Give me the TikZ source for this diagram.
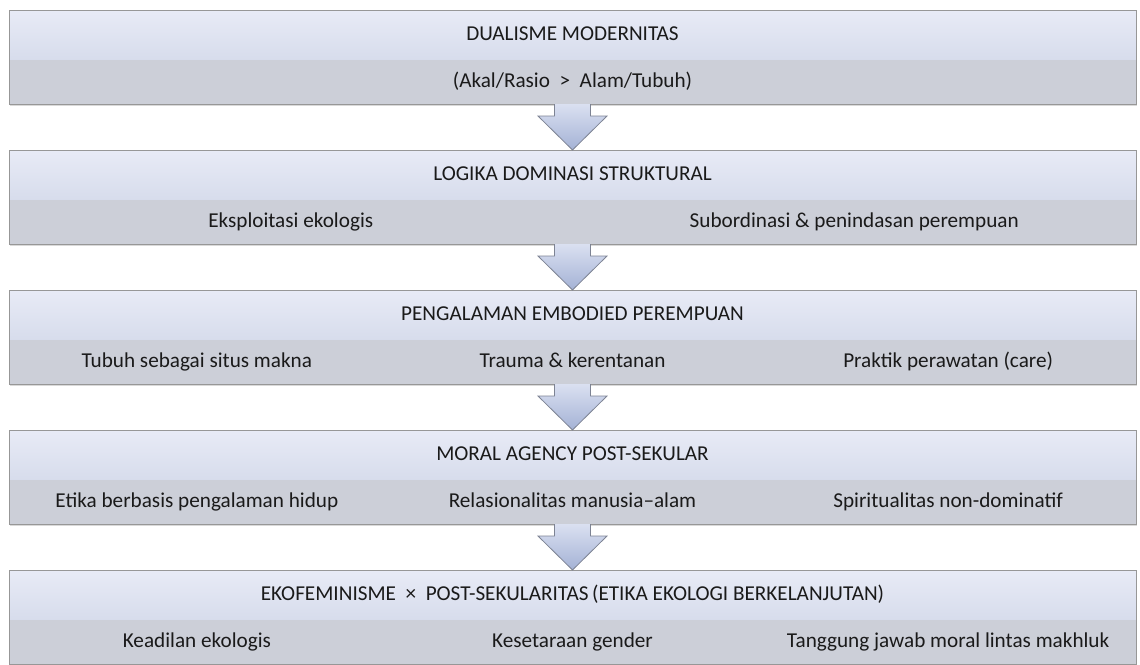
\documentclass[tikz,border=0pt]{standalone}
\usepackage{fontspec}
\setmainfont{Carlito}
\usetikzlibrary{calc,positioning,shadows}
\definecolor{headtop}{HTML}{E8EBF6}
\definecolor{headbot}{HTML}{D7DCEC}
\definecolor{subfill}{HTML}{CCCFD8}
\definecolor{frameline}{HTML}{979797}
\definecolor{arrtop}{HTML}{DAE0F1}
\definecolor{arrbot}{HTML}{A4B2D5}
\definecolor{arrline}{HTML}{7D8393}
\definecolor{inktext}{HTML}{1A1A1A}

\begin{document}
\begin{tikzpicture}[
 band/.style={minimum width=563.5pt,inner sep=0pt,outer sep=0pt,text=inktext,font=\fontsize{10.6}{12.7}\selectfont,text height=7.5pt,text depth=2.2pt,drop shadow={shadow xshift=0.6pt,shadow yshift=-0.9pt,opacity=0.3}},
 head/.style={band,minimum height=25pt,top color=headtop,bottom color=headbot},
 sub/.style={band,minimum height=22pt,fill=subfill},
 item/.style={text=inktext,font=\fontsize{10.6}{12.7}\selectfont,inner sep=0pt,text height=7.5pt,text depth=2.2pt},
 frame/.style={draw=frameline,line width=0.5pt},
 blockarr/.style={draw=arrline,line width=0.4pt,top color=arrtop,bottom color=arrbot}
]
\useasboundingbox (0,0) rectangle (570pt,-332pt);
% five stacked levels
\node[head] (h1) at (286.25pt,-17.5pt) {DUALISME MODERNITAS};
\node[sub,below=0pt of h1] (s1) {(Akal/Rasio~~>~~Alam/Tubuh)};
\node[head,below=23pt of s1] (h2) {LOGIKA DOMINASI STRUKTURAL};
\node[sub,below=0pt of h2] (s2) {};
\node[head,below=23pt of s2] (h3) {PENGALAMAN EMBODIED PEREMPUAN};
\node[sub,below=0pt of h3] (s3) {};
\node[head,below=23pt of s3] (h4) {MORAL AGENCY POST-SEKULAR};
\node[sub,below=0pt of h4] (s4) {};
\node[head,below=23pt of s4] (h5) {EKOFEMINISME~~×~~POST-SEKULARITAS\,(ETIKA EKOLOGI BERKELANJUTAN)};
\node[sub,below=0pt of h5] (s5) {};
\foreach \k in {1,...,5}
 \draw[frame] (h\k.north west) rectangle (s\k.south east);
% items in the lower bands
\node[item] (eks) at ($(s2.west)!0.25!(s2.east)$) {Eksploitasi ekologis};
\node[item] (sub) at ($(s2.west)!0.75!(s2.east)$) {Subordinasi \& penindasan perempuan};
\node[item] (tub) at ($(s3.west)!0.1667!(s3.east)$) {Tubuh sebagai situs makna};
\node[item] (tra) at ($(s3.west)!0.5!(s3.east)$) {Trauma \& kerentanan};
\node[item] (pra) at ($(s3.west)!0.8333!(s3.east)$) {Praktik perawatan (care)};
\node[item] (eti) at ($(s4.west)!0.1667!(s4.east)$) {Etika berbasis pengalaman hidup};
\node[item] (rel) at ($(s4.west)!0.5!(s4.east)$) {Relasionalitas manusia–alam};
\node[item] (spi) at ($(s4.west)!0.8333!(s4.east)$) {Spiritualitas non-dominatif};
\node[item] (kea) at ($(s5.west)!0.1667!(s5.east)$) {Keadilan ekologis};
\node[item] (kes) at ($(s5.west)!0.5!(s5.east)$) {Kesetaraan gender};
\node[item] (tan) at ($(s5.west)!0.8333!(s5.east)$) {Tanggung jawab moral lintas makhluk};
% block arrows between levels
\foreach \a/\b in {s1/h2,s2/h3,s3/h4,s4/h5}
 \draw[blockarr] ($(\a.south)+(-9pt,0)$) -- ($(\b.north)+(-9pt,17pt)$) -- ($(\b.north)+(-17.25pt,17pt)$)
  -- (\b.north) -- ($(\b.north)+(17.25pt,17pt)$) -- ($(\b.north)+(9pt,17pt)$) -- ($(\a.south)+(9pt,0)$);
\end{tikzpicture}
\end{document}
